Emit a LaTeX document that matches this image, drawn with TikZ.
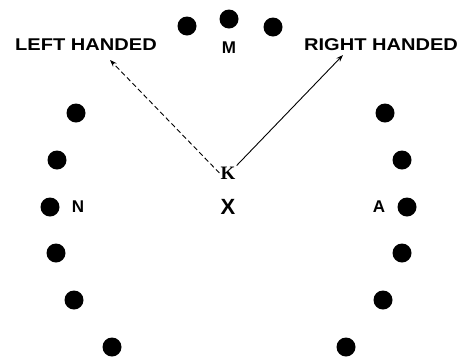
\documentclass[tikz,border=0pt]{standalone}
\usepackage{fontspec}
\setmainfont{Liberation Sans}
\newfontfamily\handfont[FakeStretch=1.18]{Liberation Sans Bold}
\newfontfamily\kfont{Liberation Serif Bold}
\usetikzlibrary{arrows.meta}
\tikzset{
  dot/.style={circle,fill=black,inner sep=0pt,minimum size=19pt},
  side/.style={font=\fontsize{17}{17}\handfont,inner sep=0pt},
  letter/.style={font=\fontsize{17}{17}\selectfont\bfseries,inner sep=1pt},
  hand/.style={line width=0.9pt,-{Stealth[length=7pt,width=5pt]}}
}
\begin{document}
\begin{tikzpicture}[x=1pt,y=-1pt]  % 1 unit = 1 px, y down
  \useasboundingbox (0,0) rectangle (468,357);
  % ---- ring of dots
  \foreach \p [count=\i] in {(187,26),(229,19),(273,27),
      (76,113),(57,160),(50,207),(56,253),(74,300),(112,347),
      (385,113),(402,160),(407,207),(402,253),(383,300),(346,347)}
    \node[dot] (d\i) at \p {};
  % ---- letters
  \node[letter] (M) at (229,48) {M};
  \node[letter] (N) at (78,207) {N};
  \node[letter] (A) at (379,207) {A};
  \node[font=\fontsize{19}{19}\kfont,inner sep=1pt] (K) at (228,173) {K};
  \node[font=\fontsize{22}{22}\selectfont\bfseries,inner sep=1pt] (X) at (228,207) {X};
  % ---- handedness
  \node[side] (lh) at (86,45) {LEFT HANDED};
  \node[side] (rh) at (381,45) {RIGHT HANDED};
  \coordinate (lhend) at (110,60);
  \coordinate (rhend) at (343,55);
  \draw[hand,dash pattern=on 5pt off 3pt] (K.west) -- (lhend);
  \draw[hand] (K.north east) -- (rhend);
\end{tikzpicture}
\end{document}
